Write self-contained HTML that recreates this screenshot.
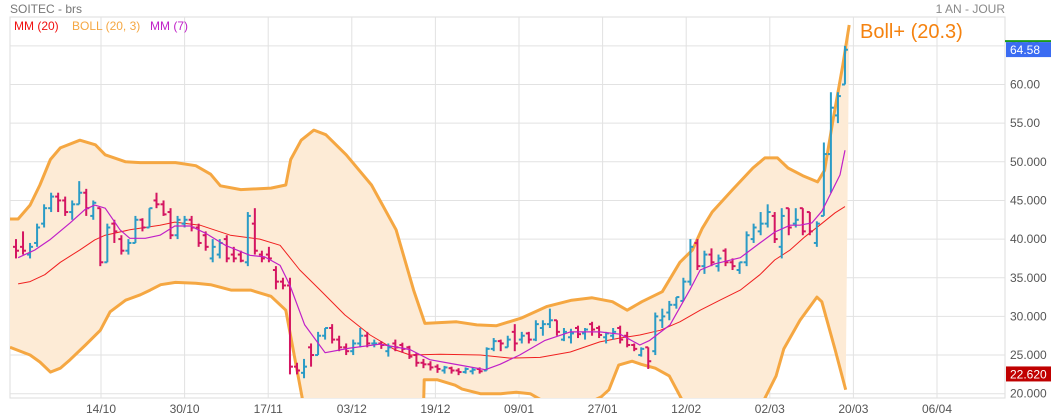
<!DOCTYPE html>
<html><head><meta charset="utf-8"><style>
html,body{margin:0;padding:0;background:#fff;}
svg{display:block;font-family:"Liberation Sans",sans-serif;}
</style></head><body>
<svg id="chart" width="1051" height="420" viewBox="0 0 1051 420" xmlns="http://www.w3.org/2000/svg">
<defs><clipPath id="plotclip"><rect x="10" y="17" width="995" height="381"/></clipPath></defs>
<text x="10" y="13" font-size="12" fill="#777">SOITEC - brs</text>
<text x="1005" y="13" font-size="12" fill="#888" text-anchor="end">1 AN - JOUR</text>
<rect x="10" y="17" width="995" height="381" fill="#fff" stroke="#ddd"/>
<g id="grid"></g>
<g id="series" clip-path="url(#plotclip)"></g>
<g id="axes"></g>
<g font-size="12">
<text x="14" y="30" fill="#f01010">MM (20)</text>
<text x="72" y="30" fill="#f5a742">BOLL (20, 3)</text>
<text x="150" y="30" fill="#c020c8">MM (7)</text>
</g>
<text x="860" y="38" font-size="20" fill="#f5820f">Boll+ (20.3)</text>
</svg>
<script>
const opens =[39,39,38,39.5,42,44,45.5,45,43.5,44.5,46,43,44,37,42,40,38.5,39.5,42.5,41.5,45,44.5,43.5,40.5,42,42.5,41.5,40.5,37.5,38,40,38,38,37,42,38,38,36,34.5,34,23.5,22.7,26,25,27.5,28.5,27,26,25.5,26.5,27.5,26.5,26.5,25.5,26.5,26.3,26,25,24,23.8,23.5,23,23.3,23,22.8,22.9,23.2,23,25.8,26.8,26,28,27,27.8,27,28.5,29,29.5,27,27.3,28.5,27.8,29,28.5,27.3,27.5,28.5,27.5,26.3,25,26,25.5,29.5,30.5,31.5,32,34.5,39.5,36.5,38,36.5,38.5,37,36,37,40,41,42,43,39,44,42,44,43.5,39.5,43,51,56,60];
const highs =[40,41,39.5,42,44.5,46,46,45.5,45,47.5,46.5,45,44,42,42.5,40.5,40,43,42.7,44,46,45,44,43,43,43,42,41,40,40,40.5,39,38.5,43.5,44,38.5,39,36.5,35,35,24,24.5,26.5,28,28.5,29,27.5,26.5,27,28.5,28,27,26.8,26.5,27,26.6,26.2,25.3,24.5,24.2,23.8,23.6,23.5,23.3,23.4,23.4,23.4,26,27.2,27,27.5,29,28,28,29.5,29.5,31,29.5,28.5,28.4,28.8,28.5,29.3,28.8,28,28.5,28.8,28,26.5,26,26,30.5,31,32,32.5,35,40,40,38.5,38.8,38,38.8,37.5,37,41,42,43.5,44.5,43.5,44,44,44,44,43.5,42.3,52.5,59,59,65];
const lows  =[37.5,38,37.5,39,41.5,43.5,43.5,43,42.5,44.5,43,42.5,36.5,37,39.5,38,38,39.5,41,41.5,44,43,40,40,41.5,41,39,38.5,37,37.5,37,37,37,36.5,38,37,37,33.5,33.5,22.5,22.5,22,23.5,25,27,26.5,25.5,25,25,26,26,26,25.8,24.8,25.5,25.3,24.5,23.5,23.3,23,22.7,22.6,22.6,22.4,22.6,22.5,22.6,23,25.5,25.5,26,25.5,26.5,26.5,26.8,27.5,28.5,27.5,26.8,26.5,27.2,27,27.5,27.2,26.5,27,26.5,26,25.5,24.8,23.2,25,28.5,29.5,31,32,34,36,35.5,36.5,35.8,36.5,36,35.5,36.5,39.5,40.5,41.5,39.5,37.5,40.5,41.5,40.5,40.5,39,43,46,55,60];
const closes=[38.5,38.5,39,41.5,44,45.5,45,43.5,44.5,46,44,44.7,37,41.5,41,38.5,39.5,42.5,41.5,44,44.5,43.2,40.5,42.5,42.5,41.5,39.5,39,39,39.5,37.5,37.5,37.2,43,38.5,37.5,37.5,34.5,34,23.5,23,23.5,25,27.5,28.5,27,26,25.5,26.5,27.5,26.5,26.5,26.3,26,26,25.8,24.8,24,23.8,23.4,23.2,23.4,23,22.8,23.2,23.1,22.9,25.8,26.8,26.5,27,26.5,27.5,27,29,29,29.5,28,28,27.8,27.7,28.3,28.3,27.6,27.8,28,27,26.3,25.8,25.8,24.2,30,30,31.5,32.5,34.5,39,36.5,38,37,37.5,37,36.5,37,40.5,41.5,42,43.5,40,43,41.5,42.5,41,41,42,51,57,58.5,64.5];
const upperIdx=[-0.85,0.3,2,3.4,4.9,6.3,9.1,11.3,12.7,15.6,17.7,22.7,25.6,27.7,29.1,32,36.3,38.4,39.1,40.6,42.4,44.1,47,50.6,54.1,56.6,58.2,62.7,65.6,68.4,72,75.6,79.1,82,84.9,87,89.1,92,94.5,96.3,97.7,99.1,102,104.9,106.6,108.4,109.9,112,114.1,115.1,116.3,117.7,118.6];
const upperVal=[42.6,42.6,44.4,47,50.3,51.8,52.8,52.2,50.9,50,49.9,49.9,49.5,48.4,46.9,46.4,46.6,47,50.3,52.8,54.1,53.5,50.9,47,41.2,33.4,29.1,29.3,28.9,28.8,29.8,31.3,32.1,32.4,31.9,30.8,31.9,33.2,37,38.6,41.4,43.5,46.4,49.2,50.5,50.5,49.2,48.2,47.4,48.9,55.4,62.5,67.7];
const lowerIdx=[-0.85,2,3.4,4.9,6.3,7.7,9.9,12,13.4,15.6,17.7,19.1,20.6,22.7,25.6,27.7,30.6,33.4,36.3,38.4,40.9,44,57.9,58.1,60,62.5,63.5,66.1,69,71.2,73.2,75.7,78.1,81.3,83.3,84.4,85.8,87.7,89,91,93,95.1,97.4,103.8,106.2,108.2,109.3,111.6,114,114.7,116.6,118.1];
const lowerVal=[26,25,24.1,22.8,23.3,24.4,26.3,28.2,30.6,32.1,32.8,33.4,34.1,34.4,34.3,34.1,33.4,33.4,32.6,30.8,18.7,14,14,21.8,21.8,21.1,20.6,20,20,20.2,20,18.7,17.6,18.7,19.6,20.5,23.7,24.2,23.8,23.3,22.3,18.7,16,16,18.7,22.3,25.8,29.5,32.5,31.9,25.7,20.5];
const mm20Idx=[0.3,2,4.1,6.3,9.1,11.2,12.7,16.2,20.5,22.6,26.2,30.5,34.7,37.6,40.4,43.3,46.8,50.4,53.9,56.1,60.4,66.1,70.3,74.6,78.9,83.1,86,88.8,91.7,94.5,97.4,100.2,103.1,105.9,108,110.2,112.3,114.4,116.6,118];
const mm20Val=[34.2,34.5,35.4,37,38.6,39.9,40.5,41.2,41.8,42.2,41.8,40.5,40,39.2,36,33.4,30.2,27.6,25.7,25,25.1,25,24.6,24.7,25.4,26.7,27.2,27.6,28.2,29.3,30.8,32.1,33.4,35.4,37.3,38.6,40.3,41.8,43.4,44.2];
const mm7Idx=[0.3,2.7,4.8,7.7,9.8,11.2,12.7,14.8,16.2,18.4,20.5,22.6,24.8,26.9,29.8,33.3,35.4,37.6,39,41.1,44,47.5,51.8,56.1,58.9,63.2,66.8,68.9,71.7,75.3,78.9,83.1,86,88.8,90.2,93.1,95.9,97.4,99.5,103.1,105.9,108,110.2,111.6,113.3,114.7,116.2,117.3,118];
const mm7Val=[37.6,38.6,39.9,42.1,43.8,44.4,44,41.2,40.1,40.1,40.5,41.7,41.7,40.8,39.2,37.9,37.7,36.6,34,28.9,25.3,25.9,26.4,25.7,24.4,23.7,23.1,23.8,25,26.9,28,28,27.7,26.3,26.9,28.9,33.4,36,36.8,37.6,39.5,40.9,41.8,41.8,42.1,43.6,46.3,48.3,51.5];
const yTicks=[20,25,30,35,40,45,50,55,60,65];
const yTickLabels=["20.000","25.000","30.000","35.000","40.000","45.000","50.000","55.00","60.00","65.00"];
const dateLabels=["14/10","30/10","17/11","03/12","19/12","09/01","27/01","12/02","02/03","20/03","06/04"];
const lastPrice=64.58, minPrice=22.62;

const NS="http://www.w3.org/2000/svg";
const X0=16, STEP=7.025;
function xs(i){return X0+i*STEP;}
function ys(p){return 393.7-(p-20)*7.73;}
function dateX(k){return 101+k*83.6;}
function mk(tag,attrs,parent){const e=document.createElementNS(NS,tag);for(const k in attrs)e.setAttribute(k,attrs[k]);parent.appendChild(e);return e;}
const grid=document.getElementById('grid'), series=document.getElementById('series'), axes=document.getElementById('axes');

yTicks.forEach((v,k)=>{
  const l=mk('line',{x1:10,x2:1005,y1:ys(v),y2:ys(v),stroke:'#e2e2e2'},grid);
  
  
  const t=mk('text',{x:1010,y:ys(v)+4,'font-size':12,fill:'#555'},axes);
  
  
  t.textContent=yTickLabels[k];
});
dateLabels.forEach((d,k)=>{
  const l=mk('line',{x1:dateX(k),x2:dateX(k),y1:17,y2:398,stroke:'#e2e2e2'},grid);
  
  
  const t=mk('text',{x:dateX(k),y:413,'font-size':12,fill:'#555','text-anchor':'middle'},axes);
  
  
  t.textContent=d;
});

function pts(idx,val){return idx.map((i,k)=>xs(i).toFixed(1)+','+ys(val[k]).toFixed(1));}
const up=pts(upperIdx,upperVal), lo=pts(lowerIdx,lowerVal);
const fill=mk('polygon',{points:up.concat(lo.slice().reverse()).join(' '),fill:'#fdebd6'},series);



function line(idx,val,color,w,name){
  const p=mk('polyline',{points:pts(idx,val).join(' '),fill:'none',stroke:color,'stroke-width':w,'stroke-linejoin':'round'},series);
  
  
}
line(upperIdx,upperVal,'#f5a742',3,'bollinger-upper');
line(lowerIdx,lowerVal,'#f5a742',3,'bollinger-lower');
line(mm20Idx,mm20Val,'#f02020',1,'mm20-line');

closes.forEach((c,i)=>{
  const col=c>=opens[i]?'#2a9bc6':'#d41561';
  const x=xs(i);
  const g=mk('g',{stroke:col,'stroke-width':2},series);
  
  
  mk('line',{x1:x,x2:x,y1:ys(highs[i]),y2:ys(lows[i])},g);
  mk('line',{x1:x-3,x2:x,y1:ys(opens[i]),y2:ys(opens[i])},g);
  mk('line',{x1:x,x2:x+3,y1:ys(c),y2:ys(c)},g);
});
line(mm7Idx,mm7Val,'#c020c8',1.2,'mm7-line');

const ly=ys(lastPrice);
const gl=mk('line',{x1:1005,x2:1051,y1:ly-8,y2:ly-8,stroke:'#1a9a1a','stroke-width':2},axes);


const lb=mk('rect',{x:1006,y:ly-7,width:45,height:15,fill:'#3b6cf2'},axes);


const lt=mk('text',{x:1010,y:ly+5,'font-size':12,fill:'#fff'},axes);


lt.textContent=lastPrice.toFixed(2);
const my=ys(minPrice);
const mb=mk('rect',{x:1006,y:my-7,width:45,height:15,fill:'#c00000'},axes);


const mt=mk('text',{x:1010,y:my+5,'font-size':12,fill:'#fff'},axes);


mt.textContent=minPrice.toFixed(3);
</script>
</body></html>
